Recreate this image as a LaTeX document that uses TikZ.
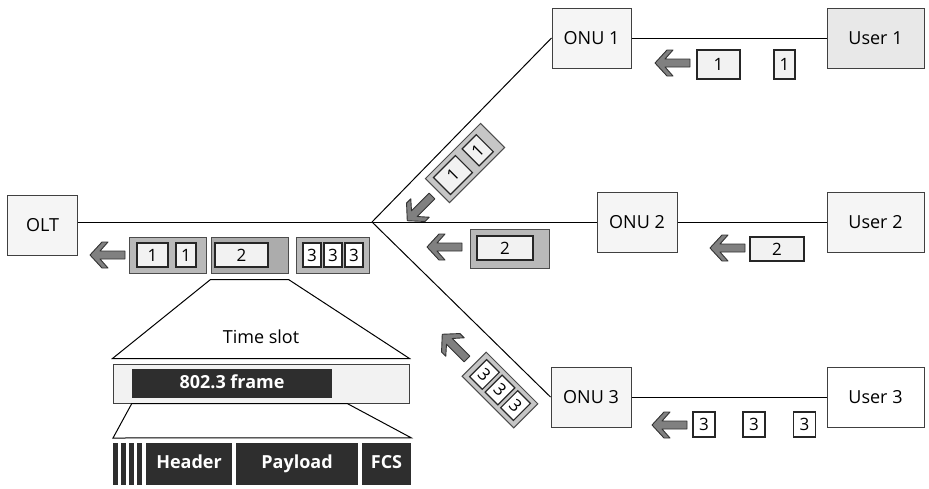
\documentclass[tikz,border=0pt]{standalone}
\usepackage{fontspec}
\setmainfont{Open Sans}
\colorlet{UnitFill}{gray!8}
\colorlet{UserFill}{gray!18}
\colorlet{PacketFill}{gray!10}
\colorlet{GroupFill}{gray!55}
\colorlet{FieldFill}{black!82}
\usetikzlibrary{calc}
\tikzset{
    unit box/.style={draw=black!75, fill=UnitFill, line width=1pt, minimum height=60pt,
        inner sep=0pt, font=\fontsize{18}{20}\selectfont},
    pkt box/.style={draw=black!85, fill=PacketFill, line width=1.2pt, minimum height=24pt,
        inner sep=0pt, font=\fontsize{17}{18}\selectfont},
    pkt group/.style={draw=black!70, fill=GroupFill, line width=1pt, minimum height=36pt,
        inner sep=0pt},
    dark field/.style={fill=FieldFill, text=white, inner sep=0pt, minimum height=42pt,
        text height=13pt, text depth=4pt, font=\fontsize{18}{20}\selectfont\bfseries},
    pkt arrow/.pic={
        \draw[fill=black!50, draw=black!80, line width=0.9pt, line join=round]
            (0,-4) -- (-25,-4) -- (-17,-13) -- (-23,-13) -- (-35,0)
            -- (-23,13) -- (-17,13) -- (-25,4) -- (0,4) -- cycle;
    }
}

\begin{document}
\begin{tikzpicture}[x=1pt, y=-1pt]
\useasboundingbox (0,0) rectangle (929,488);

% units
\node[unit box, minimum width=70pt] (olt) at (42.5,225.5) {OLT};
\node[unit box, minimum width=79pt] (onu1) at (591.5,38) {ONU 1};
\node[unit box, minimum width=80pt] (onu2) at (637,222) {ONU 2};
\node[unit box, minimum width=80pt] (onu3) at (591,397) {ONU 3};
\node[unit box, minimum width=97pt, fill=UserFill] (user1) at (875.5,38) {User 1};
\node[unit box, minimum width=97pt] (user2) at (875.5,222) {User 2};
\node[unit box, minimum width=97pt, fill=white] (user3) at (875.5,397) {User 3};

% splitter and fibres
\coordinate (split) at (372,222);
\draw[line width=1pt] (split) -- (split -| olt.east);
\draw[line width=1pt] (split) -- (onu1.west);
\draw[line width=1pt] (split) -- (onu2.west);
\draw[line width=1pt] (split) -- (onu3.west);
\draw[line width=1pt] (onu1.east) -- (user1.west);
\draw[line width=1pt] (onu2.east) -- (user2.west);
\draw[line width=1pt] (onu3.east) -- (user3.west);

% upstream frames from the users
\node[pkt box, minimum width=43pt, minimum height=29pt] (u1a) at (718.5,64.5) {1};
\node[pkt box, minimum width=21pt, minimum height=29pt] (u1b) at (784.5,64.5) {1};
\node[pkt box, minimum width=54pt] (u2a) at (777,249) {2};
\node[pkt box, minimum width=22pt, minimum height=25pt, fill=white] (u3a) at (704,424.5) {3};
\node[pkt box, minimum width=22pt, minimum height=25pt, fill=white] (u3b) at (754,424.5) {3};
\node[pkt box, minimum width=22pt, minimum height=25pt, fill=white] (u3c) at (804.5,424.5) {3};
\pic at (690,63) {pkt arrow};
\pic at (745,248) {pkt arrow};
\pic at (687,425) {pkt arrow};

% frames on the branches
\begin{scope}[shift={(465,163)}, rotate=45, transform shape]
    \node[pkt group, minimum width=78pt, minimum height=34pt, fill=gray!45] (b1) at (0,0) {};
    \node[pkt box, minimum width=31pt] (b1a) at (-17,0) {1};
    \node[pkt box, minimum width=20pt] (b1b) at (18,0) {1};
\end{scope}
\node[pkt group, minimum width=79pt, minimum height=39pt] (b2) at (509.5,248.5) {};
\node[pkt box, minimum width=56pt] (b2a) at (505,248) {2};
\begin{scope}[shift={(500,390)}, rotate=-45, transform shape]
    \node[pkt group, minimum width=73pt, minimum height=34pt, fill=gray!45] (b3) at (0,0) {};
    \node[pkt box, minimum width=18pt, fill=white] (b3a) at (-22,0) {3};
    \node[pkt box, minimum width=18pt, fill=white] (b3b) at (0,0) {3};
    \node[pkt box, minimum width=18pt, fill=white] (b3c) at (22,0) {3};
\end{scope}
\pic[rotate=45] at (432,196) {pkt arrow};
\pic at (462,247) {pkt arrow};
\pic[rotate=-45] at (467,359) {pkt arrow};

% frames towards the OLT
\node[pkt group, minimum width=77pt] (g1) at (167.5,255) {};
\node[pkt box, minimum width=31pt] (g1a) at (152.5,255) {1};
\node[pkt box, minimum width=20pt] (g1b) at (186,255) {1};
\node[pkt group, minimum width=77pt, fill=gray!65] (g2) at (249.5,255) {};
\node[pkt box, minimum width=53pt] (g2a) at (241.5,255) {2};
\node[pkt group, minimum width=73pt] (g3) at (332.5,255) {};
\node[pkt box, minimum width=18pt, fill=white] (g3a) at (312,255) {3};
\node[pkt box, minimum width=18pt, fill=white] (g3b) at (333,255) {3};
\node[pkt box, minimum width=18pt, fill=white] (g3c) at (354,255) {3};
\pic at (125,255) {pkt arrow};

% time slot detail
\node[draw=black!75, fill=gray!10, line width=1pt, minimum width=296pt, minimum height=39pt,
    inner sep=0pt] (bar) at (261,383.5) {};
\draw[line width=1pt, fill=white] ([yshift=-6pt]g2.south west) -- ([yshift=-6pt]g2.south east)
    -- ([yshift=5pt]bar.north east) -- ([yshift=5pt]bar.north west) -- cycle;
\node[font=\fontsize{18}{20}\selectfont] (slotlabel) at (261,337) {Time slot};
\node[dark field, minimum width=200pt, minimum height=29pt] (frame) at (232,383.5) {802.3 frame};

% frame fields
\node[dark field, minimum width=86pt] (header) at (189,464) {Header};
\node[dark field, minimum width=122pt] (payload) at (297,464) {Payload};
\node[dark field, minimum width=49pt] (fcs) at (386.5,464) {FCS};
\foreach \x in {115.5,123.5,131.5,139.5}
    \fill[FieldFill] (\x-2.5,443) rectangle (\x+2.5,485);
\coordinate (fanl) at (113,438);
\draw[line width=1pt, fill=white] (frame.west |- bar.south) -- ([xshift=15pt]frame.east |- bar.south)
    -- ([yshift=5pt]fcs.north east) -- (fanl) -- cycle;
\end{tikzpicture}
\end{document}
